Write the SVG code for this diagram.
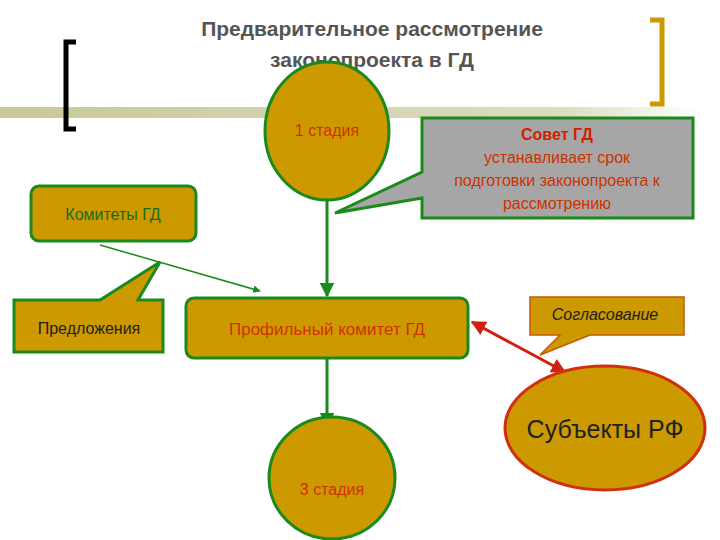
<svg xmlns="http://www.w3.org/2000/svg" width="720" height="540" viewBox="0 0 720 540">
<defs>
<linearGradient id="band" x1="0" x2="1"><stop offset="0" stop-color="#c8c89a"/><stop offset="0.8" stop-color="#dcdcc0"/><stop offset="1" stop-color="#fff"/></linearGradient>
<marker id="ag" viewBox="0 0 10 10" refX="9" refY="5" markerWidth="5" markerHeight="5" orient="auto"><path d="M0,0L10,5L0,10z" fill="#1a8a1a"/></marker>
<marker id="ar" viewBox="0 0 10 10" refX="9" refY="5" markerWidth="5" markerHeight="5" orient="auto-start-reverse"><path d="M0,0L10,5L0,10z" fill="#d02010"/></marker>
<style>
.n{fill:#cc9900;stroke:#1a8a1a;stroke-width:3}
text{font-family:"Liberation Sans",Arial,sans-serif;text-anchor:middle}
</style>
</defs>
<rect x="0" y="107" width="700" height="11" fill="url(#band)"/>
<path d="M76,42H66V129H76" fill="none" stroke="#000" stroke-width="5"/>
<path d="M650,20H662V104H650" fill="none" stroke="#cc9900" stroke-width="5"/>
<text x="372" y="36" font-size="21" font-weight="bold" fill="#555">Предварительное рассмотрение</text>
<text x="372" y="67" font-size="21" font-weight="bold" fill="#555">законопроекта в ГД</text>
<g id="connectors">
<line x1="327" y1="200" x2="327" y2="296" stroke="#1a8a1a" stroke-width="3" marker-end="url(#ag)"/>
<line x1="327" y1="358" x2="327" y2="426" stroke="#1a8a1a" stroke-width="3" marker-end="url(#ag)"/>
<line x1="100" y1="245" x2="260" y2="291" stroke="#1a8a1a" stroke-width="1.5" marker-end="url(#ag)"/>
<line x1="472" y1="322" x2="565" y2="372" stroke="#d02010" stroke-width="3" marker-start="url(#ar)" marker-end="url(#ar)"/>
</g>
<g id="stage1"><ellipse class="n" cx="327" cy="131" rx="62" ry="69"/><text x="327" y="136" font-size="16" fill="#cc3300">1 стадия</text></g>
<g id="sovet"><path d="M422,118H693V218H422V198L335,213L422,172Z" fill="#a6a6a6" stroke="#1a8a1a" stroke-width="3"/>
<text x="557" y="140" font-size="16" font-weight="bold" fill="#cc2200">Совет ГД</text>
<text x="557" y="163" font-size="16" fill="#cc3300">устанавливает срок</text>
<text x="557" y="186" font-size="16" fill="#cc3300">подготовки законопроекта к</text>
<text x="557" y="209" font-size="16" fill="#cc3300">рассмотрению</text></g>
<g id="komitety"><rect class="n" x="31" y="186" width="165" height="55" rx="8"/><text x="113" y="220" font-size="16" fill="#1a6a1a">Комитеты ГД</text></g>
<g id="predl"><path d="M14,300H100L160,262L138,300H163V352H14Z" class="n"/><text x="89" y="334" font-size="16" fill="#222">Предложения</text></g>
<g id="profil"><rect class="n" x="186" y="298" width="282" height="60" rx="8"/><text x="327" y="335" font-size="17" fill="#cc3300">Профильный комитет ГД</text></g>
<g id="stage3"><ellipse class="n" cx="332" cy="478" rx="63" ry="61"/><text x="332" y="495" font-size="16" fill="#cc3300">3 стадия</text></g>
<g id="soglas"><path d="M530,297H684V335H590L540,355L560,335H530Z" fill="#cc9900" stroke="#cc5500" stroke-width="1.5"/><text x="605" y="320" font-size="16" font-style="italic" fill="#222">Согласование</text></g>
<g id="subj"><ellipse cx="605" cy="428" rx="100" ry="62" fill="#cc9900" stroke="#d03010" stroke-width="3"/><text x="605" y="438" font-size="25" fill="#222">Субъекты РФ</text></g>
</svg>
